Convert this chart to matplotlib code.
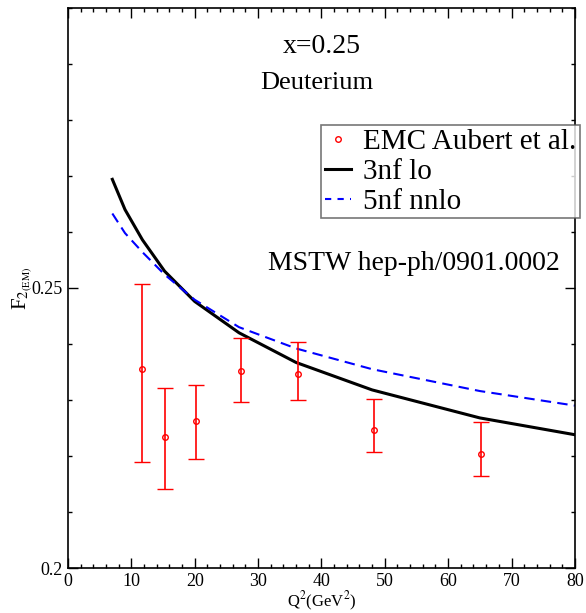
import matplotlib.pyplot as plt
from matplotlib.ticker import MultipleLocator
from matplotlib.lines import Line2D

plt.rcParams['font.family'] = ['Liberation Serif', 'DejaVu Serif']
plt.rcParams['mathtext.fontset'] = 'stix'

# EMC Aubert et al. data
q2_data = [11.75, 15.25, 20.25, 27.25, 36.25, 48.25, 65.25]
f2_data = [0.2355, 0.2234, 0.2262, 0.2352, 0.2346, 0.2247, 0.2204]
f2_up = [0.2507, 0.2321, 0.2326, 0.2410, 0.2403, 0.2301, 0.2260]
f2_lo = [0.2189, 0.2141, 0.2194, 0.2296, 0.2300, 0.2208, 0.2164]

# theory curves
q2_th = [7, 9, 11.75, 15.25, 20, 27, 36, 48, 65, 80]
f2_3nf_lo = [0.2694, 0.2640, 0.2586, 0.2530, 0.2476, 0.2420, 0.2367, 0.2318, 0.2268, 0.2238]
f2_5nf_nnlo = [0.2633, 0.2598, 0.2564, 0.2524, 0.2479, 0.2430, 0.2392, 0.2355, 0.2316, 0.2290]

err_lo = [m - l for m, l in zip(f2_data, f2_lo)]
err_up = [u - m for m, u in zip(f2_data, f2_up)]

fig = plt.figure(figsize=(5.86, 6.13), dpi=100)
ax = fig.add_axes([0.116, 0.0734, 0.865, 0.9136])

ax.errorbar(q2_data, f2_data, yerr=[err_lo, err_up], fmt='o', color='red',
            mfc='none', mec='red', ms=4, mew=1, elinewidth=1.2, capsize=6,
            capthick=1.2, zorder=3)
ax.plot(q2_th, f2_3nf_lo, color='black', lw=2.2)
ax.plot(q2_th, f2_5nf_nnlo, color='blue', lw=1.5, ls=(0, (5, 3)))

ax.set_xlim(0, 80)
ax.set_ylim(0.2, 0.3)
ax.set_xticks(range(0, 81, 10))
ax.set_yticks([0.2, 0.25])
ax.set_yticklabels(['0.2', '0.25'])
ax.xaxis.set_minor_locator(MultipleLocator(2))
ax.yaxis.set_minor_locator(MultipleLocator(0.01))
ax.tick_params(which='both', direction='in', top=True, right=True, labelsize=13)
ax.tick_params(which='major', length=7.5, width=1)
ax.tick_params(which='minor', length=3, width=1)
for s in ax.spines.values():
    s.set_linewidth(1.2)

ax.set_xlabel('Q$^2$(GeV$^2$)', fontsize=12, labelpad=0)
ax.set_ylabel(r'F$_{2_{\mathrm{(EM)}}}$', fontsize=15, labelpad=-2)

ax.text(0.5, 0.932, 'x=0.25', transform=ax.transAxes, ha='center', va='center', fontsize=20)
ax.text(0.49, 0.866, 'Deuterium', transform=ax.transAxes, ha='center', va='center', fontsize=19)
ax.text(0.97, 0.543, 'MSTW hep-ph/0901.0002', transform=ax.transAxes,
        ha='right', va='center', fontsize=20, zorder=5)

handles = [Line2D([], [], ls='none', marker='o', ms=4, mfc='none', mec='red', mew=1),
           Line2D([], [], color='black', lw=2.2),
           Line2D([], [], color='blue', lw=1.5, ls=(0, (3, 3)))]
labels = ['EMC Aubert et al.', '3nf lo', '5nf nnlo']
leg = ax.legend(handles, labels, loc='upper left', bbox_to_anchor=(0.5, 0.791),
                borderaxespad=0, fontsize=21, frameon=True, fancybox=False,
                handlelength=0.9, handletextpad=0.4, borderpad=0.12,
                labelspacing=0.12)
leg.get_frame().set_edgecolor('#555555')
leg.get_frame().set_linewidth(1.2)

fig.savefig('out.png', dpi=100)
